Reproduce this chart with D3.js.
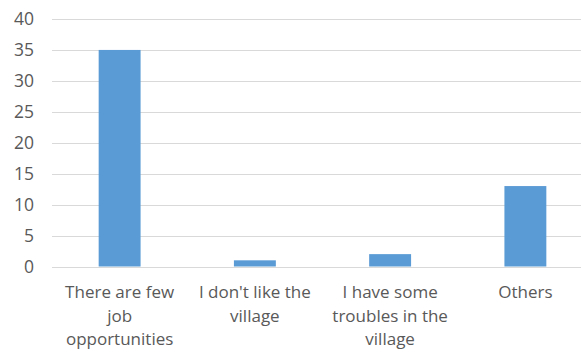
<!DOCTYPE html>
<html><head><meta charset="utf-8">
<script src="https://cdn.jsdelivr.net/npm/d3@7"></script>
<style>body{margin:0;background:#fff;} svg{display:block;}</style>
</head><body>
<svg id="chart" width="581" height="352"></svg>
<script>
const categories = ["There are few\njob\nopportunities", "I don't like the\nvillage", "I have some\ntroubles in the\nvillage", "Others"];
const values = [35, 1, 2, 13];
const yTicks = [0, 5, 10, 15, 20, 25, 30, 35, 40];

const svg = d3.select("#chart");
const W = 581, H = 352;
const font = "'Open Sans', sans-serif";
const x = d3.scaleBand().domain(categories).range([52, 593]).paddingInner(0.69).paddingOuter(0.345);
const y = d3.scaleLinear().domain([0, 40]).range([266.5, 19]);

// gridlines
svg.append("g").selectAll("line").data(yTicks).join("line")
  .attr("x1", 52).attr("x2", W).attr("y1", d => Math.round(y(d)) + 0.5).attr("y2", d => Math.round(y(d)) + 0.5)
  .attr("stroke", "#d9d9d9").attr("stroke-width", 1);

// y tick labels
svg.append("g").selectAll("text").data(yTicks).join("text")
  .attr("x", 34).attr("y", d => y(d)).attr("dy", "0.36em")
  .attr("text-anchor", "end").attr("font-family", font).attr("font-size", 17.5).attr("fill", "#595959")
  .text(d => d);

// bars
svg.append("g").selectAll("rect").data(values).join("rect")
  .attr("x", (d, i) => x(categories[i])).attr("width", x.bandwidth())
  .attr("y", d => y(d)).attr("height", d => y(0) - y(d))
  .attr("fill", "#5b9bd5");

// x labels
const lab = svg.append("g").selectAll("text").data(categories).join("text")
  .attr("text-anchor", "middle").attr("font-family", font).attr("font-size", 17).attr("fill", "#595959")
  .attr("transform", d => `translate(${x(d) + x.bandwidth() / 2},0)`);
lab.each(function(d) {
  const lines = d.split("\n");
  d3.select(this).selectAll("tspan").data(lines).join("tspan")
    .attr("x", 0).attr("y", (l, i) => 298 + i * 23.5).text(l => l);
});
</script>
</body></html>
